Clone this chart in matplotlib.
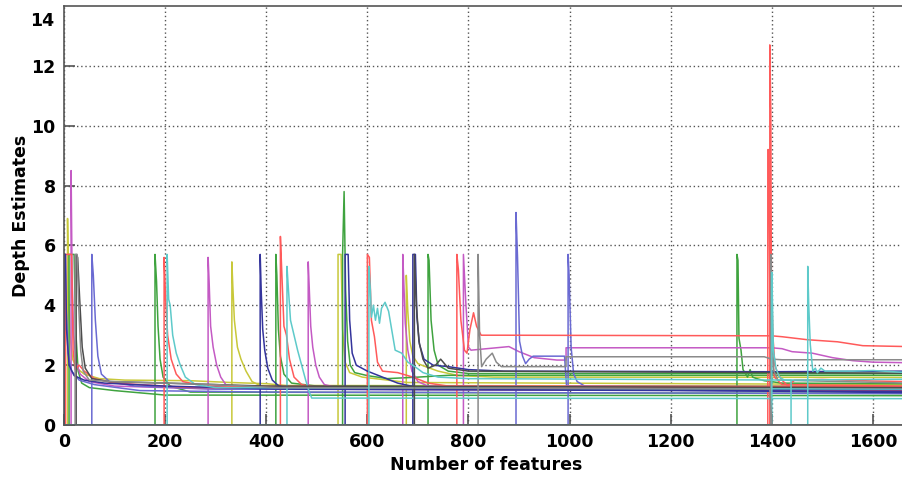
import numpy as np
import matplotlib
matplotlib.use("Agg")
import matplotlib.pyplot as plt

plt.rcParams['font.family'] = ['DejaVu Sans']
plt.rcParams['font.weight'] = 'bold'

# Depth estimate tracks, one per feature: (x, depth) breakpoints, zero before onset
navy_tracks = [
    [(0, 0), (0, 5.7), (3, 5.7), (5, 3.2), (10, 2.0), (20, 1.65), (40, 1.5), (80, 1.4), (200, 1.3), (420, 1.2), (1670, 1.18)],
    [(388, 0), (388, 5.7), (390, 4.5), (393, 3.2), (397, 2.5), (403, 1.9), (412, 1.5), (425, 1.3), (460, 1.2), (1670, 1.12)],
    [(556, 0), (556, 5.7), (562, 5.7), (565, 3.5), (570, 2.4), (578, 2.0), (600, 1.8), (630, 1.6), (660, 1.4), (700, 1.25), (1670, 1.08)],
    [(690, 0), (690, 5.7), (695, 5.7), (698, 3.6), (703, 2.7), (712, 2.2), (730, 2.0), (760, 1.95), (800, 1.85), (870, 1.8), (1400, 1.78), (1670, 1.8)],
]
blue_tracks = [
    [(0, 0), (0, 4.5), (2, 5.7), (4, 4.0), (8, 2.4), (15, 1.8), (30, 1.5), (60, 1.35), (150, 1.15), (400, 1.1), (1670, 1.05)],
    [(55, 0), (55, 5.7), (58, 5.0), (62, 3.5), (67, 2.3), (74, 1.7), (90, 1.45), (140, 1.3), (300, 1.2), (1670, 1.15)],
    [(894, 0), (894, 7.1), (897, 5.6), (901, 2.8), (907, 2.3), (913, 2.05), (920, 2.2), (928, 2.3), (990, 2.3), (994, 1.3), (1670, 1.28)],
    [(997, 0), (997, 5.7), (999, 5.0), (1003, 2.6), (1008, 1.7), (1015, 1.45), (1030, 1.3), (1080, 1.2), (1670, 1.2)],
]
green_tracks = [
    [(10, 0), (10, 5.7), (20, 5.7), (23, 3.2), (28, 1.8), (35, 1.4), (50, 1.25), (100, 1.15), (200, 1.0), (1670, 0.98)],
    [(180, 0), (180, 5.7), (183, 4.8), (186, 3.3), (190, 2.2), (196, 1.6), (210, 1.3), (250, 1.1), (1670, 1.05)],
    [(419, 0), (419, 5.7), (421, 5.0), (424, 3.2), (428, 2.3), (435, 1.7), (450, 1.4), (500, 1.3), (1670, 1.25)],
    [(551, 0), (551, 5.7), (554, 7.8), (557, 4.5), (561, 2.8), (566, 2.0), (575, 1.75), (600, 1.65), (640, 1.55), (700, 1.6), (760, 1.66), (1670, 1.66)],
    [(720, 0), (720, 5.7), (722, 5.5), (726, 3.5), (732, 2.5), (740, 2.0), (760, 1.8), (800, 1.72), (1670, 1.72)],
    [(1331, 0), (1331, 5.7), (1333, 5.5), (1335, 2.9), (1339, 2.5), (1343, 1.85), (1352, 1.6), (1357, 1.85), (1362, 1.6), (1370, 1.55), (1385, 1.48), (1403, 1.44), (1420, 1.4), (1670, 1.38)],
]
red_tracks = [
    [(3, 0), (3, 5.7), (15, 5.7), (18, 2.5), (22, 1.85), (30, 2.0), (40, 1.8), (60, 1.55), (100, 1.4), (250, 1.25), (1670, 1.2)],
    [(198, 0), (198, 5.6), (201, 4.2), (205, 3.0), (212, 2.2), (222, 1.7), (235, 1.45), (280, 1.3), (1670, 1.22)],
    [(428, 0), (428, 6.3), (431, 5.0), (435, 3.3), (440, 3.0), (446, 2.2), (455, 1.6), (470, 1.35), (520, 1.2), (1670, 1.15)],
    [(600, 0), (600, 5.7), (604, 5.6), (608, 3.5), (614, 2.95), (620, 2.1), (630, 1.8), (660, 1.75), (690, 1.6), (720, 1.4), (760, 1.3), (1670, 1.28)],
    [(777, 0), (777, 5.7), (780, 5.2), (785, 3.5), (792, 2.5), (797, 2.4), (803, 3.2), (810, 3.75), (816, 3.3), (825, 3.0), (870, 3.0), (1400, 2.98), (1420, 2.95), (1470, 2.85), (1530, 2.78), (1580, 2.65), (1670, 2.62)],
    [(1392, 0), (1392, 9.2), (1394, 9.2), (1396, 4.5), (1399, 2.5), (1405, 1.6), (1420, 1.35), (1670, 1.3)],
    [(1396, 0), (1396, 12.7), (1398, 10.4), (1399, 5.0), (1402, 3.0), (1406, 2.0), (1412, 1.7), (1420, 1.5), (1432, 1.3), (1445, 1.5), (1500, 1.52), (1600, 1.47), (1670, 1.45)],
]
magenta_tracks = [
    [(14, 0), (14, 8.5), (16, 5.0), (19, 3.0), (24, 2.1), (32, 1.7), (50, 1.45), (100, 1.3), (300, 1.2), (1670, 1.15)],
    [(285, 0), (285, 5.6), (287, 4.8), (290, 3.3), (295, 2.6), (302, 2.0), (310, 1.6), (320, 1.35), (340, 1.25), (1670, 1.2)],
    [(483, 0), (483, 5.45), (485, 4.6), (488, 3.3), (492, 2.6), (498, 2.0), (505, 1.6), (515, 1.35), (540, 1.25), (1670, 1.22)],
    [(670, 0), (670, 5.7), (672, 4.8), (675, 3.4), (680, 2.5), (688, 1.8), (700, 1.45), (720, 1.3), (1670, 1.25)],
    [(790, 0), (790, 5.7), (795, 4.0), (800, 2.6), (805, 2.5), (880, 2.62), (900, 2.45), (930, 2.25), (975, 2.17), (993, 2.17), (993, 2.58), (1400, 2.58), (1420, 2.55), (1440, 2.45), (1480, 2.4), (1520, 2.25), (1560, 2.15), (1600, 2.1), (1670, 2.08)],
]
olive_tracks = [
    [(7, 0), (7, 6.9), (9, 4.5), (12, 3.0), (17, 2.2), (25, 1.9), (40, 1.7), (70, 1.55), (120, 1.5), (250, 1.48), (330, 1.42), (400, 1.38), (440, 1.32), (1670, 1.3)],
    [(332, 0), (332, 5.45), (334, 4.6), (337, 3.5), (343, 2.6), (350, 2.2), (360, 1.8), (372, 1.45), (390, 1.3), (1670, 1.25)],
    [(542, 0), (542, 5.7), (548, 5.7), (551, 3.2), (556, 2.1), (565, 1.75), (590, 1.6), (640, 1.5), (680, 1.42), (1670, 1.35)],
    [(677, 0), (677, 5.0), (680, 3.8), (684, 2.8), (690, 2.3), (700, 2.05), (715, 1.95), (740, 1.8), (780, 1.65), (850, 1.6), (1670, 1.59)],
]
grey_tracks = [
    [(24, 0), (24, 5.7), (27, 5.6), (31, 4.2), (36, 2.6), (42, 1.9), (55, 1.55), (90, 1.45), (200, 1.4), (400, 1.3), (1670, 1.25)],
    [(693, 0), (693, 5.7), (697, 4.0), (702, 2.8), (710, 2.2), (720, 1.9), (735, 2.0), (745, 2.2), (760, 1.9), (800, 1.8), (1670, 1.73)],
    [(819, 0), (819, 5.7), (822, 3.0), (826, 1.95), (835, 2.2), (847, 2.4), (855, 2.1), (865, 1.95), (993, 1.95), (993, 2.28), (1385, 2.28), (1400, 2.2), (1420, 2.18), (1670, 2.18)],
    [(1398, 0), (1398, 5.7), (1400, 3.0), (1404, 1.8), (1412, 1.5), (1670, 1.4)],
]
cyan_tracks = [
    [(204, 0), (204, 5.7), (207, 4.2), (210, 4.0), (215, 3.0), (222, 2.4), (230, 2.0), (240, 1.6), (260, 1.35), (300, 1.25), (1670, 1.2)],
    [(441, 0), (441, 5.3), (444, 4.5), (448, 3.5), (455, 3.0), (462, 2.5), (470, 2.0), (478, 1.5), (485, 1.1), (490, 0.9), (1670, 0.88)],
]
# tracks drawn last: re-initialised at 1400, lost at 1400, lost at 1438 and re-found at 1471
cyan_late = [(1400, 0), (1400, 5.1), (1403, 2.5), (1408, 1.9), (1415, 1.6), (1425, 1.5), (1670, 1.53)]
grey_lost = [(22, 0), (22, 5.7), (26, 5.7), (29, 4.0), (33, 2.5), (38, 1.8), (50, 1.5), (100, 1.45), (300, 1.35), (420, 1.25), (1396, 1.2), (1400, 0), (1670, 0)]
cyan_refound = [(603, 0), (603, 5.3), (606, 4.5), (608, 3.6), (612, 4.0), (616, 3.5), (620, 3.9), (624, 3.4), (628, 3.9),
                (635, 4.1), (642, 3.8), (648, 3.2), (655, 2.5), (668, 2.4), (680, 2.1), (694, 1.95), (710, 1.75),
                (740, 1.6), (800, 1.55), (1438, 1.5), (1438, 0), (1471, 0), (1471, 5.3), (1473, 4.0), (1476, 2.7),
                (1481, 1.8), (1486, 1.9), (1490, 1.75), (1497, 1.9), (1505, 1.8), (1560, 1.8), (1600, 1.82), (1640, 1.78), (1670, 1.75)]

colors = {
    'navy': '#34349c', 'blue': '#6a6ad2', 'green': '#3fa33f', 'red': '#ff5a5a',
    'magenta': '#c45ac4', 'olive': '#c8c83a', 'grey': '#8a8a8a', 'darkgrey': '#4c4c4c', 'cyan': '#5ecaca',
}

fig = plt.figure(figsize=(9.03, 4.78), dpi=100)
ax = fig.add_axes([64 / 903, 1 - 425 / 478, 1670 * 0.5056 / 903, 419 / 478])


def draw(track, color):
    xs = [p[0] for p in track]
    ys = [p[1] for p in track]
    if xs[0] > 0:
        xs = [0] + xs
        ys = [0] + ys
    ax.plot(xs, ys, color=color, lw=1.1)


groups = [(olive_tracks, 'olive'), (green_tracks, 'green'), (magenta_tracks, 'magenta'),
          (blue_tracks, 'blue'), (red_tracks, 'red'), (navy_tracks, 'navy'), (cyan_tracks, 'cyan')]
for tracks, name in groups:
    for t in tracks:
        draw(t, colors[name])
for i, t in enumerate(grey_tracks):
    draw(t, colors['darkgrey'] if i in (0, 1) else colors['grey'])

draw(cyan_late, colors['cyan'])
draw(grey_lost, colors['grey'])
draw(cyan_refound, colors['cyan'])

ax.set_xlim(0, 1670)
ax.set_ylim(0, 14)
ax.set_xticks(np.arange(0, 1601, 200))
ax.set_yticks(np.arange(0, 13, 2))
ax.text(-0.012, 13.5, '14', transform=ax.get_yaxis_transform(), ha='right', va='center',
        fontsize=12.5, fontweight='bold')
ax.tick_params(direction='in', length=8, width=1.2, color='#555555', labelsize=12.5, pad=6)
for s in ax.spines.values():
    s.set_color('#555555')
    s.set_linewidth(1.2)
ax.grid(True, color='#555555', linestyle=(0, (1, 2)), linewidth=1.0)
ax.set_axisbelow(True)

ax.set_xlabel('Number of features', fontsize=12.5, fontweight='bold', labelpad=3)
ax.set_ylabel('Depth Estimates', fontsize=12.5, fontweight='bold', labelpad=1)

fig.savefig('out.png', dpi=100)
